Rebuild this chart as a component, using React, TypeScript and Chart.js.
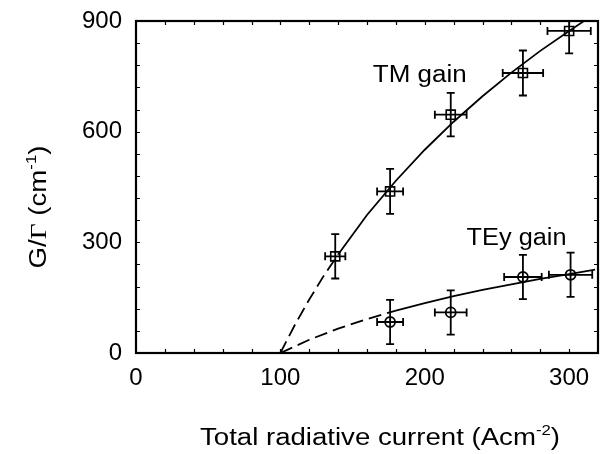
import React, { useEffect, useRef } from "react";
import { Chart, registerables } from "chart.js";

Chart.register(...registerables);

// ---- data ----
const tmX = [138, 176, 218, 268, 300];
const tmY = [262, 438, 646, 759, 873];
const tmXErr = [7, 9, 11, 14, 15];
const tmYErr = [60, 61, 59, 61, 61];

const teX = [176, 218, 268, 301];
const teY = [84, 110, 206, 212];
const teXErr = [9, 11, 13, 15];
const teYErr = [60, 60, 60, 60];

const tmFitX = [100, 110, 120, 130, 140, 160, 180, 200, 220, 240, 260, 280, 300, 310];
const tmFitY = [0, 76, 145, 209, 267, 374, 467, 551, 627, 696, 760, 819, 873, 899];

const teFitX = [100, 120, 140, 160, 180, 200, 220, 240, 260, 280, 300, 318];
const teFitY = [0, 36, 66, 92, 115, 135, 154, 171, 186, 201, 214, 226];

const xTickValues = [0, 100, 200, 300];
const yTickValues = [0, 300, 600, 900];
const xMinorStep = 20;
const yMinorStep = 60;

const SANS = "'Liberation Sans', Arial, sans-serif";
const SERIF = "'Liberation Serif', 'Times New Roman', serif";

type Part = { t: string; sup?: boolean; serif?: boolean };

function drawRich(
  ctx: CanvasRenderingContext2D,
  parts: Part[],
  x: number,
  y: number,
  size: number,
  sx: number,
  align: "left" | "center",
  rotate = 0
) {
  ctx.save();
  ctx.translate(x, y);
  if (rotate) ctx.rotate(rotate);
  ctx.scale(sx, 1);
  ctx.fillStyle = "#000";
  ctx.textBaseline = "alphabetic";
  ctx.textAlign = "left";
  const fontFor = (p: Part) =>
    `${p.sup ? Math.round(size * 0.62) : size}px ${p.serif ? SERIF : SANS}`;
  let total = 0;
  for (const p of parts) {
    ctx.font = fontFor(p);
    total += ctx.measureText(p.t).width;
  }
  let cur = align === "center" ? -total / 2 : 0;
  for (const p of parts) {
    ctx.font = fontFor(p);
    ctx.fillText(p.t, cur, p.sup ? -size * 0.42 : 0);
    cur += ctx.measureText(p.t).width;
  }
  ctx.restore();
}

const decorPlugin = {
  id: "decor",
  afterDatasetsDraw(chart: any) {
    const ctx: CanvasRenderingContext2D = chart.ctx;
    const xs = chart.scales.x;
    const ys = chart.scales.y;
    const a = chart.chartArea;
    ctx.save();
    ctx.beginPath();
    ctx.rect(a.left, a.top, a.right - a.left, a.bottom - a.top);
    ctx.clip();
    ctx.strokeStyle = "#000";
    ctx.lineWidth = 1.8;
    const cap = 4;
    const bars = (X: number[], Y: number[], XE: number[], YE: number[]) => {
      for (let i = 0; i < X.length; i++) {
        const px = xs.getPixelForValue(X[i]);
        const py = ys.getPixelForValue(Y[i]);
        const x0 = xs.getPixelForValue(X[i] - XE[i]);
        const x1 = xs.getPixelForValue(X[i] + XE[i]);
        const y0 = ys.getPixelForValue(Y[i] - YE[i]);
        const y1 = ys.getPixelForValue(Y[i] + YE[i]);
        ctx.beginPath();
        ctx.moveTo(x0, py);
        ctx.lineTo(x1, py);
        ctx.moveTo(x0, py - cap);
        ctx.lineTo(x0, py + cap);
        ctx.moveTo(x1, py - cap);
        ctx.lineTo(x1, py + cap);
        ctx.moveTo(px, y0);
        ctx.lineTo(px, y1);
        ctx.moveTo(px - cap, y0);
        ctx.lineTo(px + cap, y0);
        ctx.moveTo(px - cap, y1);
        ctx.lineTo(px + cap, y1);
        ctx.stroke();
      }
    };
    bars(tmX, tmY, tmXErr, tmYErr);
    bars(teX, teY, teXErr, teYErr);
    ctx.restore();
  },
  afterDraw(chart: any) {
    const ctx: CanvasRenderingContext2D = chart.ctx;
    const xs = chart.scales.x;
    const ys = chart.scales.y;
    const a = chart.chartArea;
    ctx.save();
    ctx.strokeStyle = "#000";
    ctx.lineWidth = 2.2;
    ctx.strokeRect(a.left, a.top, a.right - a.left, a.bottom - a.top);
    ctx.lineWidth = 1.2;
    const tl = 4;
    ctx.beginPath();
    for (let v = xs.min + xMinorStep; v < xs.max; v += xMinorStep) {
      const px = Math.round(xs.getPixelForValue(v)) + 0.5;
      ctx.moveTo(px, a.bottom);
      ctx.lineTo(px, a.bottom - tl);
      ctx.moveTo(px, a.top);
      ctx.lineTo(px, a.top + tl);
    }
    for (let v = ys.min + yMinorStep; v < ys.max; v += yMinorStep) {
      const py = Math.round(ys.getPixelForValue(v)) + 0.5;
      ctx.moveTo(a.left, py);
      ctx.lineTo(a.left + tl, py);
      ctx.moveTo(a.right, py);
      ctx.lineTo(a.right - tl, py);
    }
    ctx.stroke();
    ctx.restore();

    // annotations
    drawRich(ctx, [{ t: "TM gain" }], xs.getPixelForValue(164), ys.getPixelForValue(735), 23, 1.13, "left");
    drawRich(ctx, [{ t: "TEy gain" }], xs.getPixelForValue(229), ys.getPixelForValue(292), 23, 1.1, "left");

    // axis titles
    drawRich(
      ctx,
      [{ t: "Total radiative current (Acm" }, { t: "-2", sup: true }, { t: ")" }],
      380,
      445,
      23,
      1.2,
      "center"
    );
    drawRich(
      ctx,
      [{ t: "G/" }, { t: "Γ", serif: true }, { t: " (cm" }, { t: "-1", sup: true }, { t: ")" }],
      46,
      207,
      23,
      1.2,
      "center",
      -Math.PI / 2
    );
  },
};

export default function App() {
  const ref = useRef<HTMLCanvasElement | null>(null);
  useEffect(() => {
    document.body.style.margin = "0";
    const canvas = ref.current;
    if (!canvas) return;
    const segDash = (startDashBefore: number) => (c: any) =>
      c.p1.parsed.x <= startDashBefore ? [13, 6] : undefined;
    const chart = new Chart(canvas, {
      type: "scatter",
      data: {
        datasets: [
          {
            label: "TM fit",
            data: tmFitX.map((x, i) => ({ x, y: tmFitY[i] })),
            showLine: true,
            pointRadius: 0,
            borderColor: "#000",
            borderWidth: 1.8,
            segment: { borderDash: segDash(140) },
          },
          {
            label: "TEy fit",
            data: teFitX.map((x, i) => ({ x, y: teFitY[i] })),
            showLine: true,
            pointRadius: 0,
            borderColor: "#000",
            borderWidth: 1.8,
            segment: { borderDash: segDash(180) },
          },
          {
            label: "TM gain",
            data: tmX.map((x, i) => ({ x, y: tmY[i] })),
            pointStyle: "rect",
            pointRadius: 6.4,
            borderColor: "#000",
            borderWidth: 1.6,
            backgroundColor: "rgba(0,0,0,0)",
          },
          {
            label: "TEy gain",
            data: teX.map((x, i) => ({ x, y: teY[i] })),
            pointStyle: "circle",
            pointRadius: 5,
            borderColor: "#000",
            borderWidth: 1.8,
            backgroundColor: "rgba(0,0,0,0)",
          },
        ],
      },
      options: {
        responsive: false,
        animation: false,
        devicePixelRatio: 1,
        layout: { autoPadding: false, padding: { top: 21, right: 2, left: 0, bottom: 0 } },
        plugins: { legend: { display: false }, tooltip: { enabled: false } },
        scales: {
          x: {
            type: "linear",
            min: 0,
            max: 320,
            grid: { display: false, drawTicks: false },
            border: { display: true, color: "#000", width: 2 },
            ticks: {
              color: "#000",
              font: { size: 24, family: SANS },
              padding: 11,
              maxRotation: 0,
            },
            afterBuildTicks: (s: any) => {
              s.ticks = xTickValues.map((value) => ({ value }));
            },
            afterFit: (s: any) => {
              s.height = 101;
              s.paddingLeft = 0;
              s.paddingRight = 0;
            },
          },
          y: {
            type: "linear",
            min: 0,
            max: 900,
            grid: { display: false, drawTicks: false },
            border: { display: true, color: "#000", width: 2 },
            ticks: {
              color: "#000",
              font: { size: 24, family: SANS },
              padding: 14,
            },
            afterBuildTicks: (s: any) => {
              s.ticks = yTickValues.map((value) => ({ value }));
            },
            afterFit: (s: any) => {
              s.width = 136;
              s.paddingTop = 0;
              s.paddingBottom = 0;
            },
          },
        },
      },
      plugins: [decorPlugin],
    } as any);
    return () => chart.destroy();
  }, []);
  return <canvas ref={ref} width={600} height={454} style={{ display: "block" }} />;
}
